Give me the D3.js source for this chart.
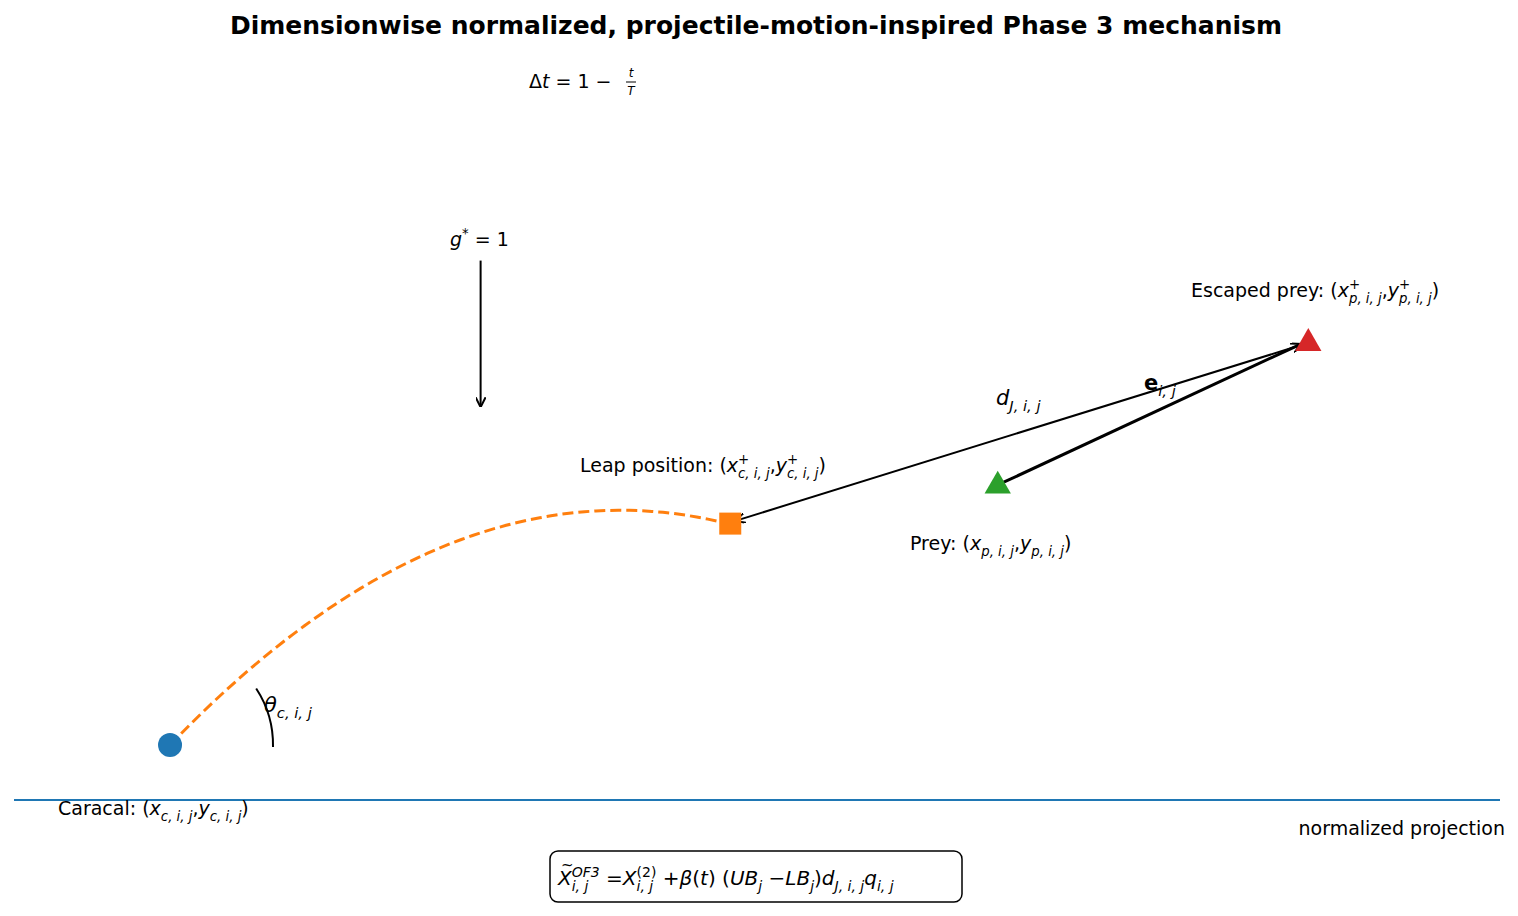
<!DOCTYPE html>
<html><head><meta charset="utf-8">
<script src="https://cdn.jsdelivr.net/npm/d3@7"></script>
<style>body{margin:0;background:#fff}svg{font-family:"DejaVu Sans",sans-serif}</style>
</head><body><svg id="c" width="1518" height="916"></svg>
<script>
// data (diagram units)
const pointNames = ["caracal","leap","prey","escaped"];
const pointX = [1.05, 4.82, 6.62, 8.71];
const pointY = [0.37, 1.86, 2.12, 3.08];
const pointColors = ["#1f77b4","#ff7f0e","#2ca02c","#d62728"];
const trajPeak = [4.08, 1.95];   // vertex of leap parabola
const gravityArrow = [[3.14,3.63],[3.14,2.65]];
const groundX = [0, 10];

const svg = d3.select("#c");
const x = d3.scaleLinear().domain([0,10]).range([14,1500]);
const y = d3.scaleLinear().domain([0,5]).range([800,57]);
const P = i => [x(pointX[i]), y(pointY[i])];

svg.append("defs").append("marker").attr("id","a1").attr("viewBox","0 0 10 10").attr("refX",9).attr("refY",5)
  .attr("markerWidth",10).attr("markerHeight",10).attr("markerUnits","userSpaceOnUse").attr("orient","auto")
  .append("path").attr("d","M0,0 L10,5 L0,10").attr("fill","none").attr("stroke","#000").attr("stroke-width",2);

svg.append("text").attr("x",756).attr("y",34).attr("text-anchor","middle")
  .attr("font-size",25).attr("font-weight","bold").text("Dimensionwise normalized, projectile-motion-inspired Phase 3 mechanism");

svg.append("line").attr("x1",x(groundX[0])).attr("x2",x(groundX[1])).attr("y1",y(0)).attr("y2",y(0))
  .attr("stroke","#1f77b4").attr("stroke-width",2);

const a = (trajPeak[1]-pointY[0])/Math.pow(pointX[0]-trajPeak[0],2);
const tx = d3.range(0,51).map(k=>pointX[0]+(pointX[1]-pointX[0])*k/50);
svg.append("path").datum(tx).attr("fill","none").attr("stroke","#ff7f0e").attr("stroke-width",3)
  .attr("stroke-dasharray","11,5")
  .attr("d",d3.line().x(d=>x(d)).y(d=>y(trajPeak[1]-a*(d-trajPeak[0])**2)));

svg.append("line").attr("x1",x(gravityArrow[0][0])).attr("y1",y(gravityArrow[0][1]))
  .attr("x2",x(gravityArrow[1][0])).attr("y2",y(gravityArrow[1][1]))
  .attr("stroke","#000").attr("stroke-width",2).attr("marker-end","url(#a1)");
svg.append("line").attr("x1",P(3)[0]-8).attr("y1",P(3)[1]+3).attr("x2",P(1)[0]+6).attr("y2",P(1)[1]-3)
  .attr("stroke","#000").attr("stroke-width",2).attr("marker-end","url(#a1)");
svg.append("line").attr("x1",P(2)[0]).attr("y1",P(2)[1]).attr("x2",P(3)[0]-8).attr("y2",P(3)[1]+2)
  .attr("stroke","#000").attr("stroke-width",3).attr("marker-end","url(#a1)");

const r = 103;
const arc = d3.arc()({innerRadius:r,outerRadius:r,startAngle:Math.PI/2-0.58,endAngle:Math.PI/2+0.02});
svg.append("path").attr("d",arc).attr("transform",`translate(${P(0)})`).attr("fill","none").attr("stroke","#000").attr("stroke-width",2);

svg.append("circle").attr("cx",P(0)[0]).attr("cy",P(0)[1]).attr("r",12).attr("fill",pointColors[0]);
svg.append("rect").attr("x",P(1)[0]-11).attr("y",P(1)[1]-11).attr("width",22).attr("height",22).attr("fill",pointColors[1]);
[2,3].forEach(i=>svg.append("path").attr("d",d3.symbol(d3.symbolTriangle,300)())
  .attr("transform",`translate(${P(i)[0]},${P(i)[1]+1})`).attr("fill",pointColors[i]));

// rich text: tokens [text, flags]; flags: it, bd, sub, sup, stack (sub placed under previous sup)
function rich(xp,yp,parts,size){
  const t=svg.append("text").attr("x",xp).attr("y",yp).attr("font-size",size);
  let cx=xp, lastStart=xp, lastW=0;
  parts.forEach(([s,fl])=>{
    const f=fl.split(" ");
    const sp=t.append("tspan").text(s);
    let start=cx;
    if(f.includes("stack")) start=lastStart;
    sp.attr("x",start);
    let yy=yp;
    if(f.includes("sub")){sp.attr("font-size",size*0.7);yy=yp+size*0.3;}
    if(f.includes("sup")){sp.attr("font-size",size*0.7);yy=yp-size*0.42;}
    sp.attr("y",yy);
    if(f.includes("it"))sp.attr("font-style","italic");
    if(f.includes("bd"))sp.attr("font-weight","bold");
    const w=sp.node().getComputedTextLength();
    if(f.includes("stack")) cx=Math.max(cx,start+w); else cx=start+w;
    lastStart=start; lastW=w;
  });
  return t;
}
const S=19;
rich(580,472,[["Leap position: (","n"],["x","it"],["+","sup"],["c, i, j","it sub stack"],[", ","n"],["y","it"],["+","sup"],["c, i, j","it sub stack"],[")","n"]],S);
rich(1191,297,[["Escaped prey: (","n"],["x","it"],["+","sup"],["p, i, j","it sub stack"],[", ","n"],["y","it"],["+","sup"],["p, i, j","it sub stack"],[")","n"]],S);
rich(910,550,[["Prey: (","n"],["x","it"],["p, i, j","it sub"],[", ","n"],["y","it"],["p, i, j","it sub"],[")","n"]],S);
rich(58,815,[["Caracal: (","n"],["x","it"],["c, i, j","it sub"],[", ","n"],["y","it"],["c, i, j","it sub"],[")","n"]],S);
rich(996,405,[["d","it"],["J, i, j","it sub"]],S+2);
rich(1144,390,[["e","bd"],["i, j","it sub"]],S+2);
rich(264,712,[["θ","it"],["c, i, j","it sub"]],S+2);
rich(450,246,[["g","it"],["*","sup"],[" = 1","n"]],S);
rich(529,88,[["Δ","n"],["t","it"],[" = 1 − ","n"]],S);
const fr=svg.append("g").attr("transform","translate(631,82)").attr("font-size",12).attr("font-style","italic").attr("text-anchor","middle");
fr.append("text").attr("y",-5).text("t");fr.append("line").attr("x1",-5).attr("x2",5).attr("stroke","#000");fr.append("text").attr("y",13).text("T");
svg.append("text").attr("x",1505).attr("y",835).attr("text-anchor","end").attr("font-size",S).text("normalized projection");

svg.append("rect").attr("x",550).attr("y",851).attr("width",412).attr("height",51).attr("rx",8)
  .attr("fill","#fff").attr("stroke","#000").attr("stroke-width",1.5);
rich(558,885,[["X","it"],["OF3","it sup"],["i, j","it sub stack"],[" = ","n"],["X","it"],["(2)","sup"],["i, j","it sub stack"],[" + ","n"],["β","it"],["(","n"],["t","it"],[") (","n"],["UB","it"],["j","it sub"],[" − ","n"],["LB","it"],["j","it sub"],[") ","n"],["d","it"],["J, i, j","it sub"],[" ","n"],["q","it"],["i, j","it sub"]],S+1);
svg.append("text").attr("x",561).attr("y",870).attr("font-size",15).text("~");
</script></body></html>
